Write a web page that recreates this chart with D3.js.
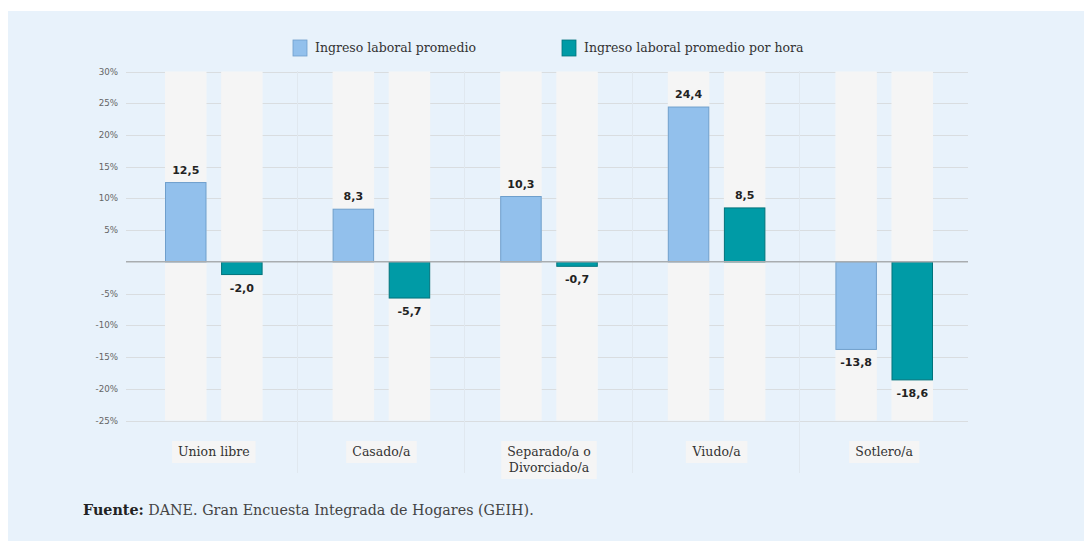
<!DOCTYPE html>
<html><head><meta charset="utf-8">
<script src="https://cdn.jsdelivr.net/npm/d3@7/dist/d3.min.js"></script>
<style>
html,body{margin:0;padding:0;background:#fff;}
svg{display:block;}
</style></head>
<body>
<svg id="chart" width="1084" height="541"></svg>
<script>
const categories = ["Union libre", "Casado/a", "Separado/a o\nDivorciado/a", "Viudo/a", "Sotlero/a"];
const seriesNames = ["Ingreso laboral promedio", "Ingreso laboral promedio por hora"];
const ingresoPromedio = [12.5, 8.3, 10.3, 24.4, -13.8];
const ingresoPorHora = [-2.0, -5.7, -0.7, 8.5, -18.6];
const yTicks = [30, 25, 20, 15, 10, 5, -5, -10, -15, -20, -25];
const source = ["Fuente:", " DANE. Gran Encuesta Integrada de Hogares (GEIH)."];

const colors = ["#92c0ec", "#009ba6"];
const strokes = ["#6f9fcc", "#00737c"];

const svg = d3.select("#chart");
svg.append("rect").attr("x", 8).attr("y", 11).attr("width", 1076).attr("height", 530).attr("fill", "#e8f2fb");

const y = d3.scaleLinear().domain([-25, 30]).range([420.5, 71.5]);
const x0 = d3.scaleBand().domain(categories).range([130, 968]);
const x1 = d3.scaleBand().domain([0, 1]).range([35, x0.bandwidth() - 35]).paddingInner(0.26);

// gridlines
svg.append("g").selectAll("line").data(yTicks).join("line")
  .attr("x1", 126).attr("x2", 968)
  .attr("y1", d => Math.round(y(d)) + 0.5).attr("y2", d => Math.round(y(d)) + 0.5)
  .attr("stroke", "#d9dde0").attr("stroke-width", 1);

// category separators
svg.append("g").selectAll("line").data(categories.slice(1)).join("line")
  .attr("x1", d => Math.round(x0(d)) - 0.5).attr("x2", d => Math.round(x0(d)) - 0.5)
  .attr("y1", 71).attr("y2", 473)
  .attr("stroke", "#e0e8ef").attr("stroke-width", 1);

// background columns
const groups = svg.append("g").selectAll("g").data(categories).join("g")
  .attr("transform", d => `translate(${x0(d)},0)`);
groups.selectAll("rect.bg").data([0, 1]).join("rect").attr("class", "bg")
  .attr("x", d => x1(d)).attr("width", x1.bandwidth())
  .attr("y", y(30)).attr("height", y(-25) - y(30))
  .attr("fill", "#f5f5f5");

// y tick labels
svg.append("g").selectAll("text").data(yTicks).join("text")
  .attr("x", 118).attr("y", d => y(d) + 3)
  .attr("text-anchor", "end")
  .attr("font-family", "DejaVu Sans, Verdana, sans-serif").attr("font-size", 8.7)
  .attr("fill", "#666").text(d => d + "%");

const series = [ingresoPromedio, ingresoPorHora];
const fmt = v => d3.format(".1f")(v).replace(".", ",").replace("−", "-");

groups.each(function(cat, ci) {
  const g = d3.select(this);
  [0, 1].forEach(si => {
    const v = series[si][ci];
    g.append("rect")
      .attr("x", x1(si) + 0.5).attr("width", x1.bandwidth() - 1)
      .attr("y", y(Math.max(0, v))).attr("height", Math.abs(y(v) - y(0)))
      .attr("fill", colors[si]).attr("stroke", strokes[si]).attr("stroke-width", 1);
    g.append("text")
      .attr("x", x1(si) + x1.bandwidth() / 2)
      .attr("y", v >= 0 ? y(v) - 9 : y(v) + 17)
      .attr("text-anchor", "middle")
      .attr("font-family", "DejaVu Sans, Verdana, sans-serif").attr("font-weight", "bold")
      .attr("font-size", 11).attr("fill", "#222")
      .text(fmt(v));
  });
});

// zero line
svg.append("line").attr("x1", 126).attr("x2", 968)
  .attr("y1", y(0)).attr("y2", y(0))
  .attr("stroke", "#a9adb0").attr("stroke-width", 1.5);

// category labels
const labelFont = "DejaVu Serif, serif";
groups.each(function(cat) {
  const g = d3.select(this);
  const lines = cat.split("\n");
  const cx = x0.bandwidth() / 2;
  const t = g.append("text").attr("text-anchor", "middle")
    .attr("font-family", labelFont).attr("font-size", 12.5).attr("fill", "#333");
  lines.forEach((l, i) => {
    t.append("tspan").attr("x", cx).attr("y", 456 + i * 16).text(l);
  });
  const bb = t.node().getBBox();
  g.insert("rect", "text")
    .attr("x", cx - bb.width / 2 - 6).attr("y", 441)
    .attr("width", bb.width + 12).attr("height", 22 + (lines.length - 1) * 16)
    .attr("fill", "#f5f5f5");
});

// legend
const legendX = [293, 562];
seriesNames.forEach((n, i) => {
  svg.append("rect").attr("x", legendX[i]).attr("y", 40).attr("width", 14).attr("height", 16)
    .attr("fill", colors[i]).attr("stroke", strokes[i]).attr("stroke-width", 0.8);
  svg.append("text").attr("x", legendX[i] + 22).attr("y", 51.5)
    .attr("font-family", labelFont).attr("font-size", 12.5).attr("fill", "#333")
    .text(n);
});

// source
const st = svg.append("text").attr("x", 83).attr("y", 515)
  .attr("font-family", labelFont).attr("font-size", 14.3).attr("fill", "#444");
st.append("tspan").attr("font-weight", "bold").attr("fill", "#222").text(source[0]);
st.append("tspan").text(source[1]);
</script>
</body></html>
